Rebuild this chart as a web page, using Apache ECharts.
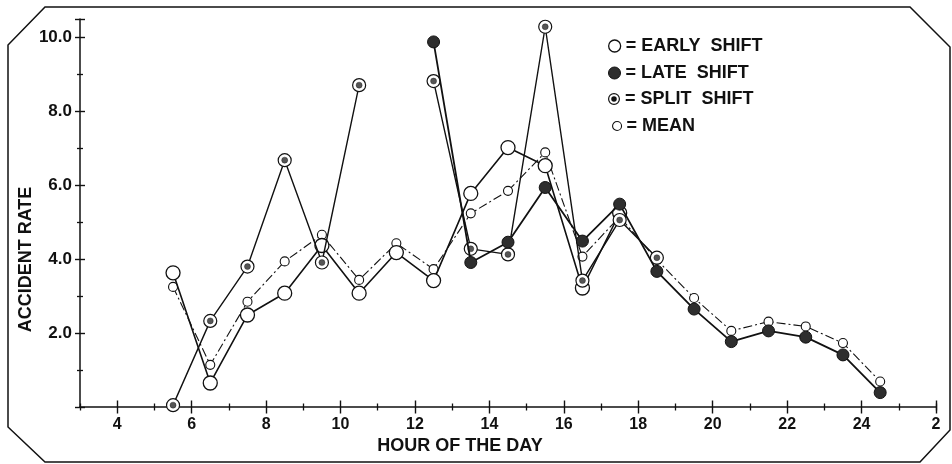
<!DOCTYPE html>
<html><head><meta charset="utf-8">
<script src="https://cdn.jsdelivr.net/npm/echarts@6/dist/echarts.min.js"></script>
<style>html,body{margin:0;padding:0;background:#fff}#c{width:952px;height:464px}</style>
</head><body><div id="c"></div>
<script>
// ---- data ----
const hours      = [5.5, 6.5, 7.5, 8.5, 9.5, 10.5, 11.5, 12.5, 13.5, 14.5, 15.5, 16.5, 17.5, 18.5, 19.5, 20.5, 21.5, 22.5, 23.5, 24.5];
const earlyShift = [3.63, 0.65, 2.49, 3.08, 4.37, 3.08, 4.18, 3.42, 5.78, 7.02, 6.53, 3.22, 5.25, null, null, null, null, null, null, null];
const lateShift  = [null, null, null, null, null, null, null, 9.88, 3.91, 4.46, 5.94, 4.49, 5.49, 3.67, 2.65, 1.77, 2.06, 1.89, 1.41, 0.39];
const splitShift = [0.05, 2.33, 3.80, 6.68, 3.91, 8.71, null, 8.82, 4.28, 4.13, 10.29, 3.42, 5.06, 4.04, null, null, null, null, null, null];
const meanRate   = [3.25, 1.14, 2.85, 3.94, 4.66, 3.44, 4.43, 3.73, 5.24, 5.85, 6.89, 4.07, 5.15, 3.98, 2.95, 2.06, 2.31, 2.18, 1.73, 0.69];
const xTickLabels = ['4', '6', '8', '10', '12', '14', '16', '18', '20', '22', '24', '2'];
const yTickLabels = ['', '2.0', '4.0', '6.0', '8.0', '10.0'];
const seriesNames = ['EARLY  SHIFT', 'LATE  SHIFT', 'SPLIT  SHIFT', 'MEAN'];
const xAxisTitle = 'HOUR OF THE DAY';
const yAxisTitle = 'ACCIDENT RATE';

// ---- chart ----
const INK = '#111';
const FONT = 'Liberation Sans';
const chart = echarts.init(document.getElementById('c'), null, {renderer: 'canvas'});
const pairs = arr => hours.map((h, i) => [h, arr[i]]);

const gridLeft = 80, gridRight = 16, gridTop = 19, gridBottom = 57;
const xMin = 3, xMax = 26;
const pxPerHour = (952 - gridLeft - gridRight) / (xMax - xMin);

const ringPath = 'path://M0,-10A10,10 0 1,1 0,10A10,10 0 1,1 0,-10ZM0,-8A8,8 0 1,0 0,8A8,8 0 1,0 0,-8ZM0,-4.6A4.6,4.6 0 1,1 0,4.6A4.6,4.6 0 1,1 0,-4.6Z';

function legendFor(name, left, top, icon, size, itemStyle) {
  return {
    data: [{name: name, icon: icon, itemStyle: itemStyle}],
    left: left, top: top, orient: 'vertical', padding: 0,
    itemWidth: size, itemHeight: size, itemGap: 0, selectedMode: false,
    formatter: n => '= ' + n,
    textStyle: {fontFamily: FONT, fontWeight: 'bold', fontSize: 18, color: INK}
  };
}

const tickLabelStyle = {fontFamily: FONT, fontWeight: 'bold', fontSize: 16, color: INK};

const option = {
  backgroundColor: '#fff',
  animation: false,
  grid: [
    {left: gridLeft, right: gridRight, top: gridTop, bottom: gridBottom},
    {left: gridLeft + pxPerHour, right: gridRight, top: gridTop, bottom: gridBottom}
  ],
  legend: [
    legendFor(seriesNames[0], 608, 37, 'circle', 12, {color: '#fff', borderColor: INK, borderWidth: 1.3}),
    legendFor(seriesNames[1], 608, 64, 'circle', 12, {color: '#2e2e2e', borderColor: INK, borderWidth: 1}),
    legendFor(seriesNames[2], 608, 90, ringPath, 12, {color: INK, borderWidth: 0}),
    legendFor(seriesNames[3], 612, 117, 'circle', 9, {color: '#fff', borderColor: INK, borderWidth: 1.1})
  ],
  xAxis: [
    { // odd-hour short ticks, outside, with axis line and title
      type: 'value', gridIndex: 0, position: 'bottom', min: xMin, max: xMax, interval: 2,
      axisLine: {show: true, onZero: false, lineStyle: {color: INK, width: 1.5}},
      axisTick: {show: true, length: 3.5, lineStyle: {color: INK, width: 1.3}},
      axisLabel: {show: false}, splitLine: {show: false},
      name: xAxisTitle, nameLocation: 'middle', nameGap: 30,
      nameTextStyle: {fontFamily: FONT, fontWeight: 'bold', fontSize: 18, color: INK, padding: [0, 96, 0, 0]}
    },
    { // odd-hour short ticks, inside
      type: 'value', gridIndex: 0, position: 'bottom', min: xMin, max: xMax, interval: 2,
      axisLine: {show: false, onZero: false}, axisTick: {show: true, inside: true, length: 3.5, lineStyle: {color: INK, width: 1.3}},
      axisLabel: {show: false}, splitLine: {show: false}
    },
    { // even-hour long ticks with labels, outside
      type: 'value', gridIndex: 1, position: 'bottom', min: 4, max: xMax, interval: 2,
      axisLine: {show: false, onZero: false},
      axisTick: {show: true, length: 6.5, lineStyle: {color: INK, width: 1.4}},
      axisLabel: Object.assign({show: true, margin: 10, formatter: v => { const i = Math.round((v - 4) / 2); return (Math.abs(v - 4 - 2 * i) < 1e-6 && xTickLabels[i] !== undefined) ? xTickLabels[i] : ''; }}, tickLabelStyle),
      splitLine: {show: false}
    },
    { // even-hour long ticks, inside
      type: 'value', gridIndex: 1, position: 'bottom', min: 4, max: xMax, interval: 2,
      axisLine: {show: false, onZero: false}, axisTick: {show: true, inside: true, length: 6.5, lineStyle: {color: INK, width: 1.4}},
      axisLabel: {show: false}, splitLine: {show: false}
    }
  ],
  yAxis: [
    {
      type: 'value', gridIndex: 0, position: 'left', min: 0, max: 10.5, interval: 2,
      axisLine: {show: true, onZero: false, lineStyle: {color: INK, width: 1.5}},
      axisTick: {show: true, length: 5, lineStyle: {color: INK, width: 1.4}},
      minorTick: {show: true, splitNumber: 2, length: 3, lineStyle: {color: INK, width: 1.3}},
      axisLabel: Object.assign({margin: 8, formatter: v => { const i = Math.round(v / 2); return (Math.abs(v - 2 * i) < 1e-6 && yTickLabels[i] !== undefined) ? yTickLabels[i] : ''; }}, tickLabelStyle, {fontSize: 17}),
      splitLine: {show: false},
      name: yAxisTitle, nameLocation: 'middle', nameGap: 45, nameRotate: 90, nameMoveOverlap: false,
      nameTextStyle: {fontFamily: FONT, fontWeight: 'bold', fontSize: 18, color: INK, padding: [0, 93, 0, 0]}
    },
    {
      type: 'value', gridIndex: 0, position: 'left', min: 0, max: 10.5, interval: 2,
      axisLine: {show: false, onZero: false},
      axisTick: {show: true, inside: true, length: 5, lineStyle: {color: INK, width: 1.4}},
      minorTick: {show: true, splitNumber: 2, length: 3, lineStyle: {color: INK, width: 1.3}},
      axisLabel: {show: false}, splitLine: {show: false}
    },
    {type: 'value', gridIndex: 1, min: 0, max: 10.5, show: false}
  ],
  series: [
    {
      name: seriesNames[3], type: 'line', xAxisIndex: 0, yAxisIndex: 0, z: 2,
      data: pairs(meanRate), connectNulls: false,
      lineStyle: {color: INK, width: 1.1, type: [9, 3, 2, 3]},
      symbol: 'circle', symbolSize: 9,
      itemStyle: {color: '#fff', borderColor: INK, borderWidth: 1.1}
    },
    {
      name: seriesNames[0], type: 'line', xAxisIndex: 0, yAxisIndex: 0, z: 3,
      data: pairs(earlyShift), connectNulls: false,
      lineStyle: {color: INK, width: 1.6},
      symbol: 'circle', symbolSize: 14,
      itemStyle: {color: '#fff', borderColor: INK, borderWidth: 1.3}
    },
    {
      name: seriesNames[2], type: 'line', xAxisIndex: 0, yAxisIndex: 0, z: 4,
      data: pairs(splitShift), connectNulls: false,
      lineStyle: {color: INK, width: 1.4},
      symbol: 'circle', symbolSize: 13,
      itemStyle: {color: '#fff', borderColor: INK, borderWidth: 1.2}
    },
    {
      name: 'splitCore', type: 'scatter', xAxisIndex: 0, yAxisIndex: 0, z: 5, silent: true,
      data: pairs(splitShift).filter(p => p[1] !== null),
      symbol: 'circle', symbolSize: 6,
      itemStyle: {color: '#2a2a2a', borderColor: INK, borderWidth: 0.5}
    },
    {
      name: seriesNames[1], type: 'line', xAxisIndex: 0, yAxisIndex: 0, z: 6,
      data: pairs(lateShift), connectNulls: false,
      lineStyle: {color: INK, width: 1.8},
      symbol: 'circle', symbolSize: 12,
      itemStyle: {color: '#2e2e2e', borderColor: INK, borderWidth: 1}
    }
  ],
  graphic: [
    {
      type: 'polygon', silent: true, z: 100,
      shape: {points: [[45, 7], [910, 7], [950, 47], [950, 430], [920, 462], [45, 462], [8, 427], [8, 45]]},
      style: {fill: 'none', stroke: INK, lineWidth: 1.5}
    }
  ]
};
chart.setOption(option);
</script>
</body></html>
